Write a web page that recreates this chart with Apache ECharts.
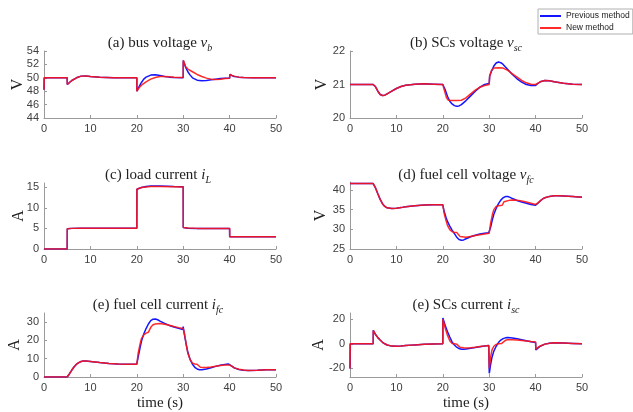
<!DOCTYPE html>
<html><head><meta charset="utf-8">
<script src="https://cdn.jsdelivr.net/npm/echarts@6/dist/echarts.min.js"></script>
<style>html,body{margin:0;background:#fff}#c{width:633px;height:412px}</style>
</head><body><div id="c"></div>
<script>
// ---- data: [time (s), value] ----
var busPrev = [[0,48.2],[0.05,50],[5,50],[5.02,49.0],[5.5,49.3],[6,49.6],[7,50.0],[8,50.25],[9,50.28],[10,50.2],[12,50.1],[15,50.02],[20,50],[20.02,48.0],[20.5,48.7],[21,49.3],[21.5,49.8],[22,50.1],[23,50.4],[24,50.45],[25,50.35],[26,50.2],[27,50.1],[28,50.05],[30,50],[30.02,52.6],[30.5,51.6],[31,50.9],[31.5,50.4],[32,50.0],[33,49.65],[34,49.55],[35,49.6],[36,49.7],[37,49.8],[38,49.9],[39,49.95],[40,49.95],[40.05,50.5],[40.5,50.35],[41,50.2],[42,50.1],[43,50.05],[45,50.0],[50,50]];
var busNew = [[0,48.2],[0.05,50],[5,50],[5.02,49.0],[5.5,49.3],[6,49.6],[7,50.0],[8,50.25],[9,50.28],[10,50.2],[12,50.1],[15,50.02],[20,50],[20.02,48.0],[20.5,48.5],[21,48.9],[22,49.4],[23,49.8],[24,50.05],[25,50.2],[26,50.2],[27,50.15],[28,50.1],[30,50.05],[30.02,52.6],[30.5,51.7],[31,51.3],[32,50.9],[33,50.5],[34,50.2],[35,49.95],[36,49.8],[37,49.75],[38,49.8],[39,49.9],[40,49.95],[40.05,50.5],[40.5,50.35],[41,50.25],[42,50.1],[43,50.05],[45,50.0],[50,50]];
var scvPrev = [[0,21],[5,21],[5.5,20.93],[6,20.8],[6.5,20.7],[7,20.67],[7.5,20.68],[8,20.72],[9,20.8],[10,20.88],[11,20.94],[12,20.98],[14,21.01],[16,21.02],[18,21.01],[20,21.0],[20.5,20.85],[21,20.65],[21.5,20.5],[22,20.42],[22.5,20.37],[23,20.35],[23.5,20.36],[24,20.4],[25,20.52],[26,20.66],[27,20.8],[28,20.92],[29,21.0],[30,21.03],[30.1,21.25],[30.5,21.4],[31,21.55],[31.5,21.64],[32,21.67],[32.5,21.65],[33,21.6],[34,21.45],[35,21.3],[36,21.17],[37,21.07],[38,21.0],[39,20.97],[40,20.97],[40.5,21.03],[41,21.08],[42,21.12],[43,21.11],[44,21.08],[46,21.04],[48,21.01],[50,21.0]];
var scvNew = [[0,21],[5,21],[5.5,20.93],[6,20.8],[6.5,20.7],[7,20.67],[7.5,20.68],[8,20.72],[9,20.8],[10,20.88],[11,20.94],[12,20.98],[14,21.01],[16,21.02],[18,21.01],[20,21.0],[20.4,20.8],[20.8,20.6],[21.2,20.53],[22,20.52],[23,20.52],[24,20.53],[25,20.6],[26,20.72],[27,20.83],[28,20.92],[29,20.97],[30,21.0],[30.1,21.25],[30.5,21.42],[31,21.49],[32,21.5],[33,21.49],[34,21.42],[35,21.32],[36,21.22],[37,21.12],[38,21.05],[39,21.01],[40,21.0],[40.5,21.04],[41,21.08],[42,21.12],[43,21.11],[44,21.08],[46,21.04],[48,21.01],[50,21.0]];
var loadPrev = [[0,0],[5,0],[5.02,4.9],[6,5.0],[8,5.05],[12,5.05],[20,5.05],[20.02,14.5],[21,14.9],[22,15.15],[23,15.3],[25,15.25],[28,15.15],[30,15.1],[30.02,5.2],[31,5.05],[33,4.95],[36,5.0],[40,5.0],[40.02,3.0],[50,3.0]];
var loadNew = [[0,0],[5,0],[5.02,4.9],[6,5.0],[8,5.05],[12,5.05],[20,5.05],[20.02,14.5],[21,14.9],[22,15.05],[23,15.15],[25,15.15],[28,15.1],[30,15.05],[30.02,5.2],[31,5.1],[33,5.0],[36,5.0],[40,5.0],[40.02,3.0],[50,3.0]];
var fcvPrev = [[0,41.6],[5,41.6],[5.5,40.5],[6,39.0],[6.5,37.6],[7,36.5],[7.5,35.8],[8,35.45],[9,35.3],[10,35.35],[11,35.5],[12,35.7],[14,36.0],[16,36.15],[18,36.2],[20,36.2],[20.3,34.5],[20.7,33.0],[21,32.0],[21.5,30.8],[22,29.8],[22.5,28.9],[23,28.0],[23.5,27.4],[24,27.2],[24.5,27.3],[25,27.6],[26,28.1],[27,28.5],[28,28.8],[29,29.0],[29.9,29.1],[30,28.7],[30.3,30.5],[30.7,32.5],[31,33.8],[31.5,35.3],[32,36.5],[32.5,37.4],[33,38.0],[33.5,38.3],[34,38.3],[34.5,38.1],[35,37.8],[36,37.3],[37,36.9],[38,36.6],[39,36.3],[40,36.1],[40.5,36.6],[41,37.2],[41.5,37.7],[42,38.0],[43,38.35],[44,38.5],[45,38.5],[46,38.45],[48,38.3],[50,38.1]];
var fcvNew = [[0,41.6],[5,41.6],[5.5,40.5],[6,39.0],[6.5,37.6],[7,36.5],[7.5,35.8],[8,35.45],[9,35.3],[10,35.35],[11,35.5],[12,35.7],[14,36.0],[16,36.15],[18,36.2],[20,36.2],[20.3,34.0],[20.7,32.2],[21,31.0],[21.5,29.9],[22,29.4],[22.5,29.2],[23,29.2],[23.4,28.8],[23.7,28.2],[24,28.0],[25,28.0],[26,28.2],[27,28.4],[28,28.6],[29,28.8],[30,29.0],[30.3,31.5],[30.7,33.8],[31,35.0],[31.5,35.8],[32,36.0],[32.8,36.1],[33.2,37.0],[33.6,37.3],[34.5,37.4],[35,37.45],[36,37.4],[37,37.2],[38,36.9],[39,36.6],[40,36.3],[40.5,36.7],[41,37.2],[41.5,37.7],[42,38.0],[43,38.35],[44,38.5],[45,38.5],[46,38.45],[48,38.3],[50,38.1]];
var fccPrev = [[0,0],[5,0],[5.5,1.8],[6,3.8],[6.5,5.6],[7,7.0],[7.5,7.9],[8,8.5],[8.5,8.7],[9,8.7],[10,8.5],[11,8.2],[12,7.9],[14,7.4],[16,7.1],[18,7.0],[20,7.0],[20.3,11],[20.7,16],[21,19.5],[21.5,23.5],[22,26.5],[22.5,29],[23,30.8],[23.5,31.6],[24,31.7],[24.5,31.3],[25,30.6],[26,29.3],[27,28.2],[28,27.3],[29,26.6],[29.9,26.0],[30,27.5],[30.2,24],[30.6,18.5],[31,13.5],[31.5,9.5],[32,7.0],[32.5,5.3],[33,4.4],[33.5,4.0],[34,4.0],[35,4.4],[36,5.1],[37,5.8],[38,6.4],[39,6.9],[39.7,7.1],[40,6.8],[40.5,5.9],[41,5.0],[42,4.1],[43,3.7],[44,3.6],[46,3.7],[48,3.9],[50,4.0]];
var fccNew = [[0,0],[5,0],[5.5,1.8],[6,3.8],[6.5,5.6],[7,7.0],[7.5,7.9],[8,8.5],[8.5,8.7],[9,8.7],[10,8.5],[11,8.2],[12,7.9],[14,7.4],[16,7.1],[18,7.0],[20,7.0],[20.3,13],[20.7,18],[21,21],[21.5,23],[22,24],[22.5,24.5],[22.8,25.5],[23.1,27.5],[23.5,28.6],[24,29.0],[25,29.2],[26,28.9],[27,28.3],[28,27.6],[29,27.0],[30,26.5],[30.3,23.5],[30.7,17],[31,13],[31.5,9.5],[32,7.6],[32.5,7.1],[33,7.0],[33.3,6.0],[33.7,5.3],[34.5,5.2],[35,5.2],[36,5.5],[37,5.9],[38,6.3],[39,6.6],[40,6.6],[40.5,5.8],[41,5.0],[42,4.2],[43,3.8],[44,3.6],[46,3.7],[48,3.9],[50,4.0]];
var sccPrev = [[0,-20],[0.05,0],[5,0],[5.02,11],[5.5,7.5],[6,5],[6.5,3],[7,1.2],[7.5,0],[8,-1],[9,-1.9],[10,-2.1],[11,-1.9],[12,-1.5],[14,-0.9],[16,-0.4],[18,-0.1],[20,0],[20.02,21],[20.5,15],[21,10],[21.5,5.5],[22,1.5],[22.5,-1],[23,-2.8],[23.5,-3.9],[24,-4.4],[24.5,-4.5],[25,-4.3],[26,-3.7],[27,-3.1],[28,-2.5],[29,-1.9],[29.9,-1.5],[30.02,-24],[30.3,-17],[30.6,-11],[31,-6],[31.5,-2],[32,1],[32.5,3],[33,4.2],[33.5,4.8],[34,5.0],[35,4.7],[36,4.0],[37,3.2],[38,2.4],[39,1.7],[40,1.0],[40.05,-5],[40.5,-3.5],[41,-2],[42,-0.3],[43,0.5],[44,0.8],[46,0.6],[48,0.3],[50,0]];
var sccNew = [[0,-20],[0.05,0],[5,0],[5.02,11],[5.5,7.5],[6,5],[6.5,3],[7,1.2],[7.5,0],[8,-1],[9,-1.9],[10,-2.1],[11,-1.9],[12,-1.5],[14,-0.9],[16,-0.4],[18,-0.1],[20,0],[20.02,20],[20.5,13],[21,7],[21.5,2.5],[22,0.3],[22.5,0],[23,-0.3],[23.3,-1.5],[23.7,-2.8],[24.5,-3.3],[25,-3.4],[26,-3.2],[27,-2.8],[28,-2.3],[29,-1.9],[29.9,-1.5],[30.02,-20],[30.3,-11],[30.6,-5],[31,-2],[31.5,-0.5],[32,0],[32.7,0.3],[33,1.8],[33.5,2.8],[34,3.2],[35,3.3],[36,3.0],[37,2.6],[38,2.2],[39,1.8],[40,1.5],[40.05,-4.5],[40.5,-3],[41,-1.8],[42,-0.3],[43,0.5],[44,0.8],[46,0.6],[48,0.3],[50,0]];

var xTicks = [0,10,20,30,40,50];
var yTicksA = [44,46,48,50,52,54];
var yTicksB = [20,21,22];
var yTicksC = [0,5,10,15];
var yTicksD = [25,30,35,40];
var yTicksE = [0,10,20,30];
var yTicksF = [-20,0,20];
var seriesNames = ['Previous method','New method'];

// ---- layout ----
var AX = '#9a9a9a', LBL = '#404040', TXT = '#222';
var grids = [
  {left:44, top:51, width:232, height:67},
  {left:350, top:51, width:232, height:67},
  {left:44, top:183, width:232, height:66},
  {left:350, top:182, width:232, height:67},
  {left:44, top:313, width:232, height:67},
  {left:350, top:313, width:232, height:67}
];
function xAx(i, bottom) {
  return {type:'value', gridIndex:i, min:0, max:50, interval:10,
    axisLine:{show:true, onZero:false, lineStyle:{color:AX}},
    axisTick:{show:true, inside:true, length:3, lineStyle:{color:AX}},
    axisLabel:{fontSize:11, color:LBL, margin:5, fontFamily:'Liberation Sans'},
    splitLine:{show:false},
    name: bottom ? 'time (s)' : '', nameLocation:'middle', nameGap:19, nameMoveOverlap:false,
    nameTextStyle:{fontFamily:'Liberation Serif', fontSize:15, color:TXT}};
}
function yAx(i, min, max, vals, name, gap) {
  return {type:'value', gridIndex:i, min:min, max:max,
    axisLine:{show:true, onZero:false, lineStyle:{color:AX}},
    axisTick:{show:true, inside:true, length:3, lineStyle:{color:AX}, customValues:vals},
    axisLabel:{fontSize:11, color:LBL, margin:5, fontFamily:'Liberation Sans', customValues:vals},
    splitLine:{show:false},
    name:name, nameLocation:'middle', nameRotate:90, nameGap:gap, nameMoveOverlap:false,
    nameTextStyle:{fontFamily:'Liberation Serif', fontSize:16, color:TXT}};
}
function ttl(cx, top, pre, v, sub) {
  return {left:cx, top:top, textAlign:'center', padding:0,
    text: pre + '{i|' + v + '}{s|' + sub + '}',
    textStyle:{fontFamily:'Liberation Serif', fontSize:15, fontWeight:'normal', color:TXT, lineHeight:20,
      rich:{
        i:{fontFamily:'Liberation Serif', fontStyle:'italic', fontSize:15, color:TXT, lineHeight:20},
        s:{fontFamily:'Liberation Serif', fontStyle:'italic', fontSize:10, color:TXT, lineHeight:11, verticalAlign:'bottom'}
      }}};
}
function ser(name, i, data, color, z) {
  return {type:'line', name:name, xAxisIndex:i, yAxisIndex:i, data:data, symbol:'none', showSymbol:false,
    lineStyle:{width:1.5, color:color}, itemStyle:{color:color}, z:z, silent:true};
}
var BLUE = '#1515ff', RED = 'rgba(255,20,20,0.9)';
var prevData = [busPrev, scvPrev, loadPrev, fcvPrev, fccPrev, sccPrev];
var newData = [busNew, scvNew, loadNew, fcvNew, fccNew, sccNew];
var series = [];
for (var k = 0; k < 6; k++) series.push(ser(seriesNames[0], k, prevData[k], BLUE, 2));
for (var k = 0; k < 6; k++) series.push(ser(seriesNames[1], k, newData[k], RED, 3));

var option = {
  animation:false,
  backgroundColor:'#fff',
  title:[
    ttl(160, 33, '(a) bus voltage ', 'v', 'b'),
    ttl(466, 33, '(b) SCs voltage ', 'v', 'sc'),
    ttl(158, 165, '(c) load current ', 'i', 'L'),
    ttl(466, 165, '(d) fuel cell voltage ', 'v', 'fc'),
    ttl(158, 295, '(e) fuel cell current ', 'i', 'fc'),
    ttl(466, 295, '(e) SCs current ', 'i', 'sc')
  ],
  legend:{data:seriesNames, left:538, top:9, orient:'vertical', icon:'rect', itemWidth:21, itemHeight:2, itemGap:2,
    padding:[2,3,1,2], borderColor:'#b0b0b0', borderWidth:1, backgroundColor:'#fff',
    textStyle:{fontSize:8.5, color:'#222', fontFamily:'Liberation Sans', lineHeight:10}},
  grid:grids,
  xAxis:[xAx(0,false), xAx(1,false), xAx(2,false), xAx(3,false), xAx(4,true), xAx(5,true)],
  yAxis:[
    yAx(0, 44, 54, yTicksA, 'V', 18.5),
    yAx(1, 20, 22, yTicksB, 'V', 20.5),
    yAx(2, 0, 16, yTicksC, 'A', 17.7),
    yAx(3, 25, 42, yTicksD, 'V', 21),
    yAx(4, 0, 35, yTicksE, 'A', 21),
    yAx(5, -27, 25, yTicksF, 'A', 23.7)
  ],
  series:series
};
var chart = echarts.init(document.getElementById('c'), null, {renderer:'canvas'});
chart.setOption(option);
</script></body></html>
